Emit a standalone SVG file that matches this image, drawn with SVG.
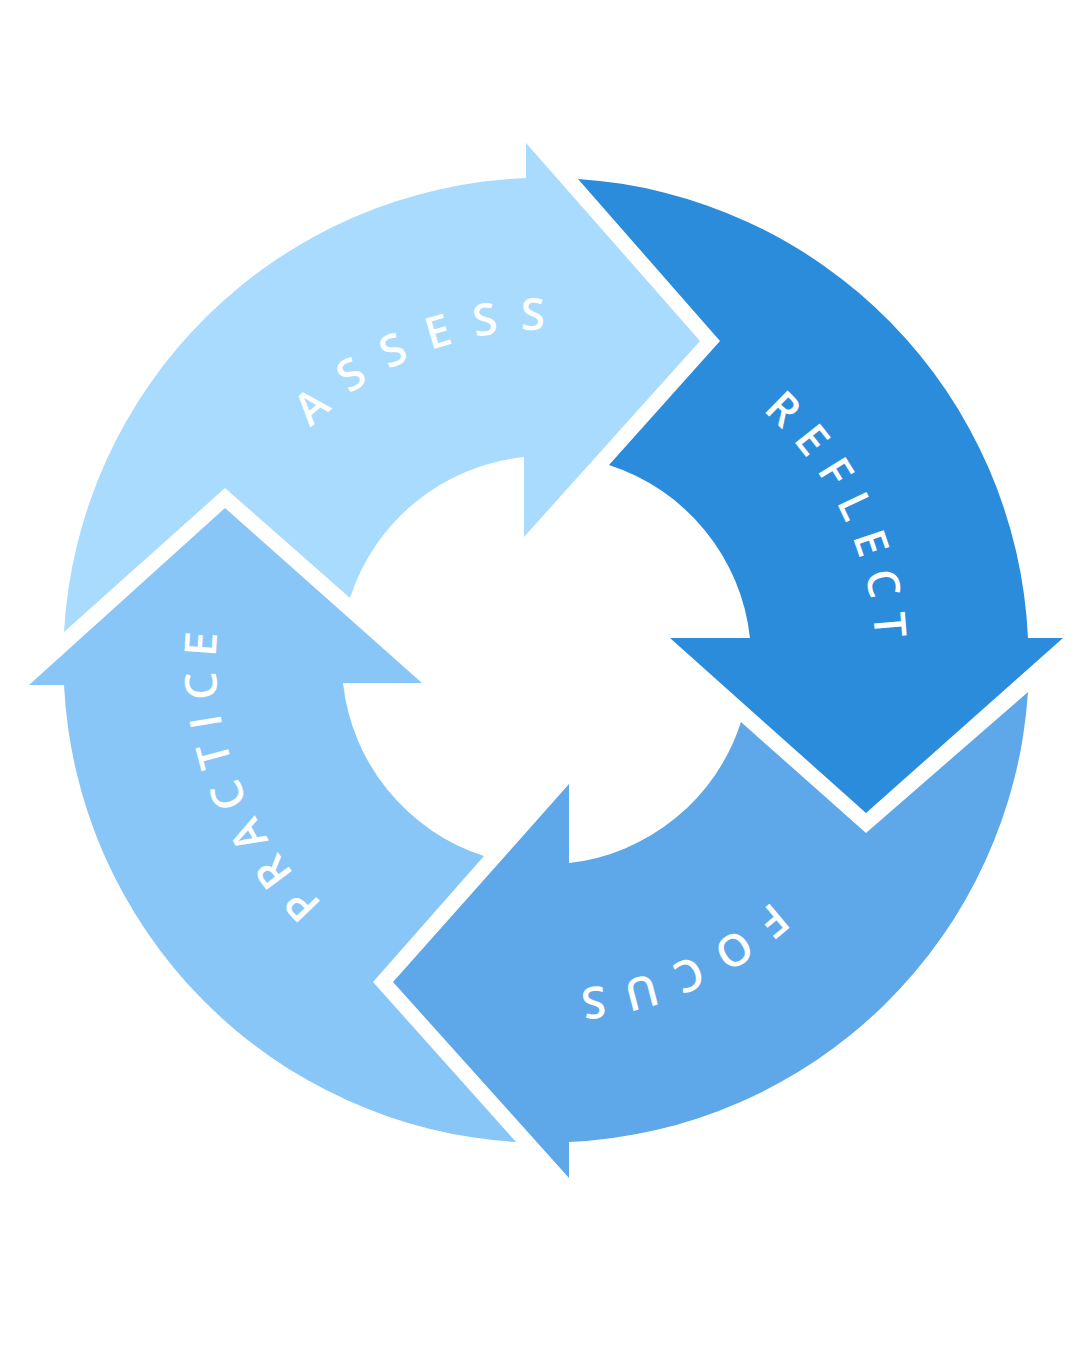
<svg xmlns="http://www.w3.org/2000/svg" xmlns:xlink="http://www.w3.org/1999/xlink" width="1080" height="1350" viewBox="0 0 1080 1350">
<style>
.lbl{fill:#fff;font-family:"Open Sans","Liberation Sans",sans-serif;font-size:44px;font-weight:600;}
</style>
<defs>
<path id="ring" d="M216,660 A330,330 0 1 1 876,660 A330,330 0 1 1 216,660 A330,330 0 1 1 876,660 A330,330 0 1 1 216,660" fill="none"/>
</defs>
<rect width="1080" height="1350" fill="#fff"/>
<g id="assess">
<path d="M64,632 A482,482 0 0 1 526,178 L526,143 L700,341 L524,537 L524,457 A205,205 0 0 0 350,598 L225,488 Z" fill="#A8DBFE"/>
<text class="lbl" letter-spacing="22" text-anchor="middle"><textPath href="#ring" xlink:href="#ring" startOffset="9.6%">ASSESS</textPath></text>
</g>
<g id="reflect">
<path d="M578,179 A482,482 0 0 1 1028,638 L1063,638 L866,813 L670,638 L750,638 A205,205 0 0 0 609,465 L720,341 Z" fill="#2B8CDB"/>
<text class="lbl" letter-spacing="14" text-anchor="middle"><textPath href="#ring" xlink:href="#ring" startOffset="21.5%">REFLECT</textPath></text>
</g>
<g id="focus">
<path d="M1028,692 A482,482 0 0 1 569,1142 L569,1178 L393,982 L569,784 L569,863 A205,205 0 0 0 741,722 L866,833 Z" fill="#5EA8E9"/>
<text class="lbl" letter-spacing="18" text-anchor="middle"><textPath href="#ring" xlink:href="#ring" startOffset="34.3%">FOCUS</textPath></text>
</g>
<g id="practice">
<path d="M516,1142 A482,482 0 0 1 64,685 L29,685 L225,508 L422,683 L343,683 A205,205 0 0 0 484,856 L373,982 Z" fill="#88C6F8"/>
<text class="lbl" letter-spacing="14" text-anchor="middle"><textPath href="#ring" xlink:href="#ring" startOffset="47.2%">PRACTICE</textPath></text>
</g>
<g id="connectors"/>
</svg>
